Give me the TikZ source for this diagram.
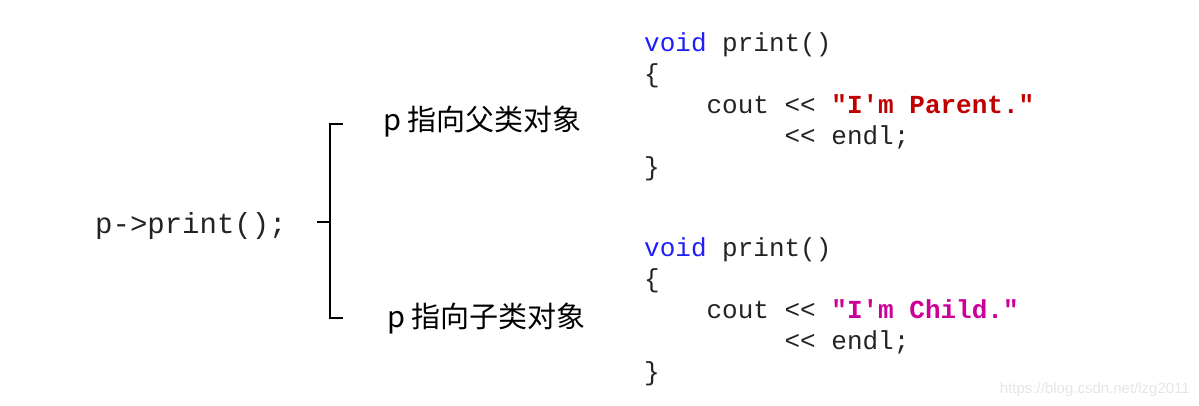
\documentclass[tikz,border=0pt]{standalone}
\usepackage{fontspec}
\setmonofont{Liberation Mono}
\newfontfamily\cjk{Noto Sans CJK SC}
\newfontfamily\wmfont{Liberation Sans}
\usepackage{tikz}
\definecolor{kwblue}{RGB}{30,30,250}
\definecolor{parred}{RGB}{192,0,0}
\definecolor{chdpink}{RGB}{204,0,153}
\definecolor{codegray}{RGB}{35,35,35}

\begin{document}
\begin{tikzpicture}[x=1pt,y=-1pt,
	codeline/.style={anchor=base west,inner sep=0pt,text=codegray,font=\fontsize{26}{31}\selectfont\ttfamily},
	cjklabel/.style={anchor=base west,inner sep=0pt,font=\cjk\fontsize{29}{34}\selectfont},
	brk/.style={line width=2pt}]
	\useasboundingbox (0,0) rectangle (1199,405);
	
	\node[codeline,font=\fontsize{29}{34}\selectfont\ttfamily] (call) at (95,233) {p->print();};
	
	% bracket
	\coordinate (btop) at (343,124);
	\coordinate (bcor1) at (330,124);
	\coordinate (bcor2) at (330,318);
	\coordinate (bbot) at (343,318);
	\coordinate (bjoin) at (330,222);
	\coordinate (bmid) at (317,222);
	\draw[brk] (btop) -- (bcor1) -- (bcor2) -- (bbot);
	\draw[brk] (bjoin) -- (bmid);
	
	\node[cjklabel] (par) at (383,130) {p 指向父类对象};
	\node[cjklabel] (chd) at (387,327) {p 指向子类对象};
	
	% parent
	\node[codeline] (pv) at (644,51) {\textcolor{kwblue}{void} print()};
	\node[codeline] (pl) at (644,82) {\{};
	\node[codeline] (pc) at (644,113) {\phantom{0000}cout << \textcolor{parred}{\bfseries "I'm Parent."}};
	\node[codeline] (pe) at (644,144) {\phantom{000000000}<< endl;};
	\node[codeline] (pr) at (644,175) {\}};
	
	% child
	\node[codeline] (cv) at (644,256) {\textcolor{kwblue}{void} print()};
	\node[codeline] (cl) at (644,287) {\{};
	\node[codeline] (cc) at (644,318) {\phantom{0000}cout << \textcolor{chdpink}{\bfseries "I'm Child."}};
	\node[codeline] (ce) at (644,349) {\phantom{000000000}<< endl;};
	\node[codeline] (cr) at (644,380) {\}};
	
	\node[anchor=base east,inner sep=0pt,text=black!10,font=\wmfont\fontsize{15}{18}\selectfont] (wm) at (1190,393) {https://blog.csdn.net/lzg2011};
\end{tikzpicture}
\end{document}
